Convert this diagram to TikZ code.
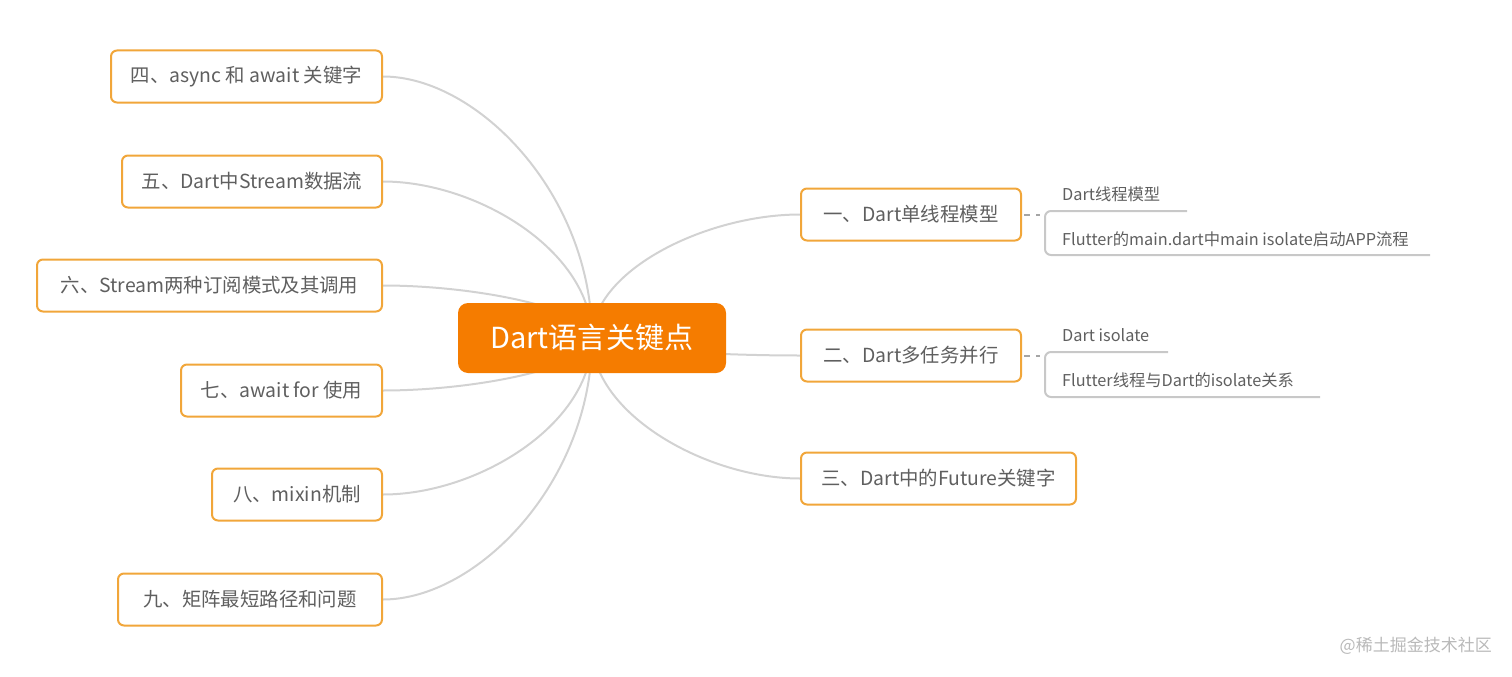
\documentclass[tikz,border=0pt]{standalone}
\usepackage{fontspec}
\setmainfont{Noto Sans CJK SC}
\usetikzlibrary{backgrounds}
\definecolor{boxorange}{RGB}{241,166,58}
\definecolor{rootorange}{RGB}{245,124,0}
\definecolor{textgray}{RGB}{95,95,95}
\definecolor{linegray}{RGB}{210,210,210}
\definecolor{subgray}{RGB}{200,200,200}
\definecolor{dashgray}{RGB}{165,165,165}
\definecolor{wmgray}{RGB}{185,185,185}
\begin{document}
\begin{tikzpicture}[x=1pt,y=-1pt,
  box/.style={draw=boxorange, line width=2pt, rounded corners=6pt, fill=white, text=textgray,
    font=\fontsize{19.4}{22}\selectfont, inner sep=0pt, minimum height=52pt},
  root/.style={fill=rootorange, rounded corners=10pt, text=white,
    font=\fontsize{29}{32}\selectfont, inner sep=0pt, minimum width=268pt, minimum height=70pt},
  link/.style={draw=linegray, line width=2pt},
  subtext/.style={text=textgray, font=\fontsize{16.3}{19}\selectfont, inner sep=0pt, anchor=west},
  subline/.style={draw=subgray, line width=2pt, rounded corners=6pt},
  dashlink/.style={draw=dashgray, line width=2pt, dash pattern=on 6pt off 6pt}]
\useasboundingbox (0,0) rectangle (1512,677);

% root
\node[root] (root) at (592,338) {Dart语言关键点};

% left branches
\node[box, minimum width=271pt] (n4) at (246.5,76.5) {四、async 和 await 关键字};
\node[box, minimum width=260pt] (n5) at (252,181.5) {五、Dart中Stream数据流};
\node[box, minimum width=345pt] (n6) at (209.5,285.5) {六、Stream两种订阅模式及其调用};
\node[box, minimum width=201pt] (n7) at (281.5,390.5) {七、await for 使用};
\node[box, minimum width=170pt] (n8) at (297,494.5) {八、mixin机制};
\node[box, minimum width=264pt] (n9) at (250,599.5) {九、矩阵最短路径和问题};

% right branches
\node[box, minimum width=220pt] (n1) at (911,214.5) {一、Dart单线程模型};
\node[box, minimum width=220pt] (n2) at (911,355.5) {二、Dart多任务并行};
\node[box, minimum width=275pt] (n3) at (938.5,478.5) {三、Dart中的Future关键字};

% connectors (behind nodes)
\begin{scope}[on background layer]
\draw[link] (root.center) .. controls (592,194) and (477,76.5) .. (n4.east);
\draw[link] (root.center) .. controls (592,251) and (477,181.5) .. (n5.east);
\draw[link] (root.center) .. controls (592,309) and (477,285.5) .. (n6.east);
\draw[link] (root.center) .. controls (592,367) and (477,390.5) .. (n7.east);
\draw[link] (root.center) .. controls (592,425) and (477,494.5) .. (n8.east);
\draw[link] (root.center) .. controls (592,482) and (477,599.5) .. (n9.east);
\draw[link] (root.center) .. controls (592,270) and (707,214.5) .. (n1.west);
\draw[link] (root.center) .. controls (592,348) and (707,355.5) .. (n2.west);
\draw[link] (root.center) .. controls (592,414) and (707,478.5) .. (n3.west);
\end{scope}

% sub items of n1
\node[subtext] (s11) at (1062,194) {Dart线程模型};
\node[subtext] (s12) at (1062,239) {Flutter的main.dart中main isolate启动APP流程};
\coordinate (d1) at (1040,214.5);
\coordinate (u11) at (1187,211);
\coordinate (u12) at (1430,255);
\draw[dashlink] ([xshift=2pt]n1.east) -- (d1);
\draw[subline] (u11) -- (1045,211) -- (1045,255) -- (u12);

% sub items of n2
\node[subtext] (s21) at (1062,335) {Dart isolate};
\node[subtext] (s22) at (1062,380) {Flutter线程与Dart的isolate关系};
\coordinate (d2) at (1040,355.5);
\coordinate (u21) at (1168,352);
\coordinate (u22) at (1320,397);
\draw[dashlink] ([xshift=2pt]n2.east) -- (d2);
\draw[subline] (u21) -- (1045,352) -- (1045,397) -- (u22);

% watermark
\node[anchor=east, text=wmgray, font=\fontsize{17}{20}\selectfont, inner sep=0pt] (wm) at (1492,646) {@稀土掘金技术社区};
\end{tikzpicture}
\end{document}
